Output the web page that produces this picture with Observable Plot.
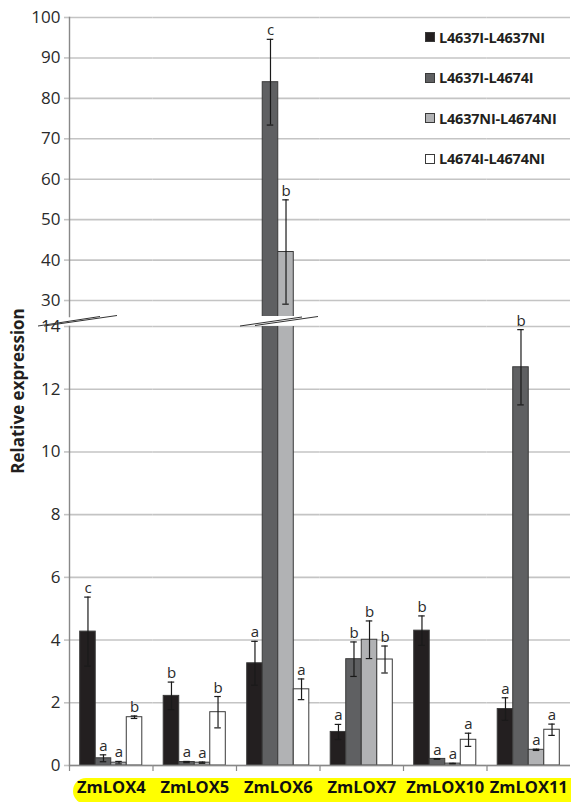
<!DOCTYPE html>
<html><head><meta charset="utf-8">
<script src="https://cdn.jsdelivr.net/npm/d3@7"></script>
<script src="https://cdn.jsdelivr.net/npm/@observablehq/plot@0.6"></script>
<style>
body{margin:0;background:#fff;}
#wrap{position:relative;width:571px;height:802px;overflow:hidden;font-family:Lato,"Open Sans",sans-serif;}
#wrap svg{overflow:visible;}
</style></head><body><div id="wrap"></div>
<script>
// ---- data ----
const genes = ["ZmLOX4","ZmLOX5","ZmLOX6","ZmLOX7","ZmLOX10","ZmLOX11"];
const series = ["L4637I-L4637NI","L4637I-L4674I","L4637NI-L4674NI","L4674I-L4674NI"];
const colors = ["#231f20","#5f6062","#b1b2b4","#ffffff"];

const s1Values = [4.27, 2.22, 3.26, 1.07, 4.30, 1.80];
const s1Errors = [1.10, 0.44, 0.70, 0.24, 0.47, 0.36];
const s1Letters = ["c","b","a","a","b","a"];

const s2Values = [0.23, 0.11, 84.0, 3.39, 0.21, 12.70];
const s2Errors = [0.11, 0.02, 10.6, 0.55, 0.01, 1.20];
const s2Letters = ["a","a","c","b","a","b"];

const s3Values = [0.09, 0.09, 42.0, 4.01, 0.06, 0.50];
const s3Errors = [0.04, 0.02, 12.9, 0.60, 0.01, 0.02];
const s3Letters = ["a","a","b","b","a","a"];

const s4Values = [1.54, 1.70, 2.43, 3.38, 0.82, 1.14];
const s4Errors = [0.04, 0.50, 0.33, 0.43, 0.21, 0.18];
const s4Letters = ["b","b","a","b","a","a"];

const upperTicks = [30,40,50,60,70,80,90,100];
const lowerTicks = [0,2,4,6,8,10,12,14];
const upperDomain = [26.05, 100];
const lowerDomain = [0, 14];
const yTitle = "Relative expression";

// ---- table ----
const seriesVals = [s1Values, s2Values, s3Values, s4Values];
const seriesErrs = [s1Errors, s2Errors, s3Errors, s4Errors];
const seriesLets = [s1Letters, s2Letters, s3Letters, s4Letters];
const data = [];
genes.forEach((g, gi) => series.forEach((s, si) => data.push({
  gene: g, series: s, value: seriesVals[si][gi], err: seriesErrs[si][gi], letter: seriesLets[si][gi]
})));

const wrap = document.getElementById("wrap");

// yellow label highlight
const hl = document.createElement("div");
hl.style.cssText = "position:absolute;left:73px;top:778px;width:498px;height:26px;background:#ffff00;border-radius:13px 0 0 13px;";
wrap.appendChild(hl);

const W = 571, ML = 69, MR = 1;
const fxOpt = {domain: genes, paddingInner: 0, paddingOuter: 0, round: false, axis: null};
const xOpt = {domain: series, paddingInner: 0, paddingOuter: 0.69, round: false, axis: null};
const colorOpt = {domain: series, range: colors};
const gridStroke = "#c4c4c4";
const axisStroke = "#888888";

function panel({height, marginTop, marginBottom, domain, ticks, bottomAxis}) {
  const lo = domain[0], hi = domain[1];
  const errData = data.filter(d => d.value + d.err <= hi + 0.01 && d.value >= lo);
  const marks = [
    Plot.gridY(ticks, {stroke: gridStroke, strokeWidth: 1.6, strokeOpacity: 1}),
    Plot.axisY(ticks, {tickSize: 5, tickPadding: 4, stroke: gridStroke, strokeWidth: 1.6, fill: "#2a2a2a", fontSize: 17, fontFamily: "'Open Sans', Lato, sans-serif", label: null}),
    Plot.barY(data, {fx: "gene", x: "series", y: "value", fill: "series", stroke: "#3a3a3a", strokeWidth: 1, clip: true}),
    Plot.ruleX(errData, {fx: "gene", x: "series", y1: d => d.value - d.err, y2: d => d.value + d.err, stroke: "#1a1a1a", strokeWidth: 1.2}),
    Plot.tickY(errData, {fx: "gene", x: "series", y: d => d.value - d.err, stroke: "#1a1a1a", strokeWidth: 1.2, insetLeft: 4.5, insetRight: 4.5}),
    Plot.tickY(errData, {fx: "gene", x: "series", y: d => d.value + d.err, stroke: "#1a1a1a", strokeWidth: 1.2, insetLeft: 4.5, insetRight: 4.5}),
    Plot.text(errData, {fx: "gene", x: "series", y: d => d.value + d.err, text: "letter", lineAnchor: "bottom", dy: -4, fontSize: 15, fill: "#2a2a2a", fontFamily: "'Open Sans', Lato, sans-serif"}),
    Plot.frame({anchor: "left", facetAnchor: "left", stroke: axisStroke, strokeWidth: 1.4})
  ];
  if (bottomAxis) {
    marks.push(
      Plot.ruleY([0], {stroke: axisStroke, strokeWidth: 1.4}),
      Plot.axisFx({anchor: "bottom", tickSize: 6, dx: -(W - ML - MR) / genes.length / 2, tickFormat: () => "", stroke: axisStroke, strokeWidth: 1.2, label: null}),
      Plot.axisFx({anchor: "bottom", tickSize: 0, tickPadding: 16, fontSize: 16.5, fontWeight: "bold", fill: "#111", fontFamily: "'Open Sans', Lato, sans-serif", label: null})
    );
  }
  return Plot.plot({
    width: W, height, marginTop, marginBottom, marginLeft: ML, marginRight: MR,
    fx: fxOpt, x: xOpt, color: colorOpt,
    y: {domain, axis: null},
    style: {background: "transparent", overflow: "visible", fontFamily: "Lato, 'Open Sans', sans-serif"},
    marks
  });
}

const upperPanel = panel({height: 316, marginTop: 17, marginBottom: 0, domain: upperDomain, ticks: upperTicks, bottomAxis: false});
upperPanel.style.position = "absolute"; upperPanel.style.left = "0px"; upperPanel.style.top = "0px";
wrap.appendChild(upperPanel);

const lowerPanel = panel({height: 502, marginTop: 26, marginBottom: 37, domain: lowerDomain, ticks: lowerTicks, bottomAxis: true});
lowerPanel.style.position = "absolute"; lowerPanel.style.left = "0px"; lowerPanel.style.top = "300px";
wrap.appendChild(lowerPanel);

// axis-break marks (decoration)
const ns = "http://www.w3.org/2000/svg";
const brk = document.createElementNS(ns, "svg");
brk.setAttribute("width", W); brk.setAttribute("height", 802);
brk.style.cssText = "position:absolute;left:0;top:0;pointer-events:none;";
[[38,326,100,316.5],[44,326,117,315.5],[240,326,302,317],[255,325.5,318,316.5]].forEach(([x1,y1,x2,y2]) => {
  const l = document.createElementNS(ns, "line");
  l.setAttribute("x1", x1); l.setAttribute("y1", y1); l.setAttribute("x2", x2); l.setAttribute("y2", y2);
  l.setAttribute("stroke", "#333"); l.setAttribute("stroke-width", "1");
  brk.appendChild(l);
});
wrap.appendChild(brk);

// legend
const leg = document.createElement("div");
leg.style.cssText = "position:absolute;left:425px;top:17.3px;";
series.forEach((s, i) => {
  const row = document.createElement("div");
  row.style.cssText = "display:flex;align-items:center;height:40.4px;";
  const sw = document.createElement("span");
  sw.style.cssText = `display:inline-block;width:10px;height:10px;box-sizing:border-box;background:${colors[i]};border:1px solid #3a3a3a;margin-right:4px;`;
  const tx = document.createElement("span");
  tx.textContent = s;
  tx.style.cssText = "font-weight:bold;font-size:14.5px;color:#231f20;white-space:nowrap;font-family:'Open Sans',Lato,sans-serif;letter-spacing:-0.2px;";
  row.appendChild(sw); row.appendChild(tx);
  leg.appendChild(row);
});
wrap.appendChild(leg);

// y title
const yt = document.createElement("div");
yt.textContent = yTitle;
yt.style.cssText = "position:absolute;left:17px;top:391px;transform:translate(-50%,-50%) rotate(-90deg);font-weight:bold;font-size:17px;color:#231f20;white-space:nowrap;font-family:'Open Sans',Lato,sans-serif;";
wrap.appendChild(yt);
</script>
</body></html>
